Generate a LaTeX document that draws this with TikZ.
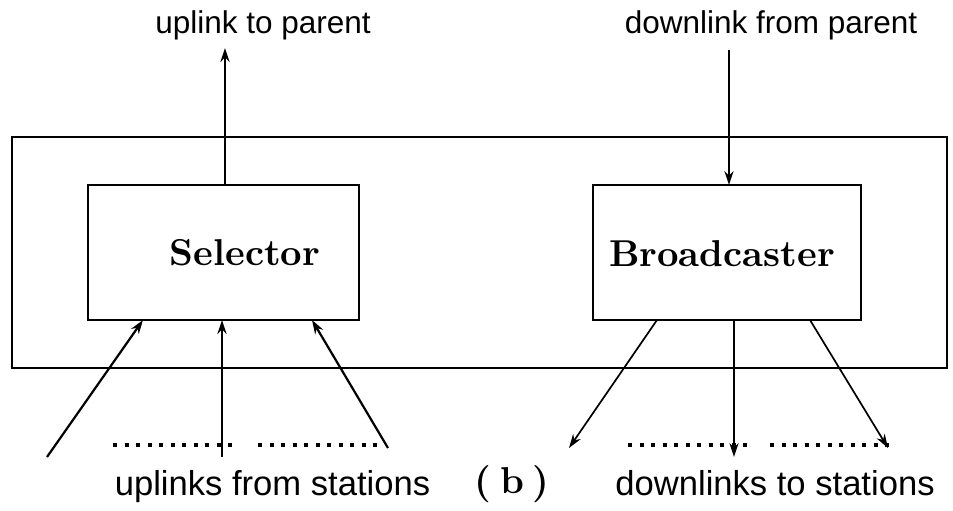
\documentclass[tikz,border=0pt]{standalone}
\usepackage{fontspec}
\newfontfamily\lblfont{Liberation Sans}
\newfontfamily\unitfont{lmroman10-bold}[Extension=.otf]
\usetikzlibrary{arrows.meta}
\tikzset{
  frame/.style={draw, line width=1.4pt, inner sep=0pt, outer sep=0pt},
  unit/.style={draw, line width=1.2pt, inner sep=0pt, outer sep=0pt},
  flow/.style={line width=1.1pt, -{Stealth[length=7pt,width=4.6pt]}},
  thinflow/.style={line width=0.85pt, -{Stealth[length=7pt,width=4.6pt]}},
  dots/.style={line width=2pt, dash pattern=on 2pt off 3.75pt},
  toplabel/.style={anchor=base, inner sep=0pt, font=\lblfont\fontsize{15.75}{18}\selectfont},
  botlabel/.style={anchor=base, inner sep=0pt, font=\lblfont\fontsize{17.3}{20}\selectfont},
  unitname/.style={anchor=base, inner sep=0pt, font=\unitfont\fontsize{18.7}{22}\selectfont},
}
\begin{document}
\begin{tikzpicture}[x=0.5pt, y=-0.5pt]
  \useasboundingbox (0,0) rectangle (953,510);

  % enclosing frame and the two units
  \node[frame, minimum width=467.5pt, minimum height=115.5pt] (outer) at (479.5,252.5) {};
  \node[unit, minimum width=135.5pt, minimum height=67.5pt] (sel) at (223.5,252.5) {};
  \node[unit, minimum width=134pt, minimum height=67.5pt] (bc) at (727,252.5) {};
  \node[unitname] (seltext) at (245,265) {Selector};
  \node[unitname] (bctext) at (722,266) {Broadcaster};

  % links to and from the parent
  \node[toplabel] (uplbl) at (263,33) {uplink to parent};
  \node[toplabel] (dnlbl) at (771,33) {downlink from parent};
  \coordinate (upTip) at (225,48);
  \coordinate (dnTail) at (729,50);
  \draw[flow] (upTip |- sel.north) -- (upTip);
  \draw[flow] (dnTail) -- (dnTail |- bc.north);

  % uplinks from the stations into the selector
  \coordinate (in1) at (47,457);
  \coordinate (in2) at (222,457);
  \coordinate (in3) at (388,448);
  \draw[flow] (in1) -- (143,0 |- sel.south);
  \draw[flow] (in2) -- (in2 |- sel.south);
  \draw[flow] (in3) -- (312,0 |- sel.south);
  \draw[dots] (113,445) -- (232,445);
  \draw[dots] (258,445) -- (377,445);

  % downlinks from the broadcaster to the stations
  \coordinate (out1) at (569,448);
  \coordinate (out2) at (734,457);
  \coordinate (out3) at (888,448);
  \draw[thinflow] (657,0 |- bc.south) -- (out1);
  \draw[flow] (out2 |- bc.south) -- (out2);
  \draw[thinflow] (810,0 |- bc.south) -- (out3);
  \draw[dots] (628,445) -- (747,445);
  \draw[dots] (770,445) -- (889,445);

  % captions
  \node[botlabel] (uplinks) at (272.5,495) {uplinks from stations};
  \node[unitname] (tag) at (512,493) {(\hspace{4.5pt}b\hspace{4.5pt})};
  \node[botlabel] (downlinks) at (775,495) {downlinks to stations};
\end{tikzpicture}
\end{document}
